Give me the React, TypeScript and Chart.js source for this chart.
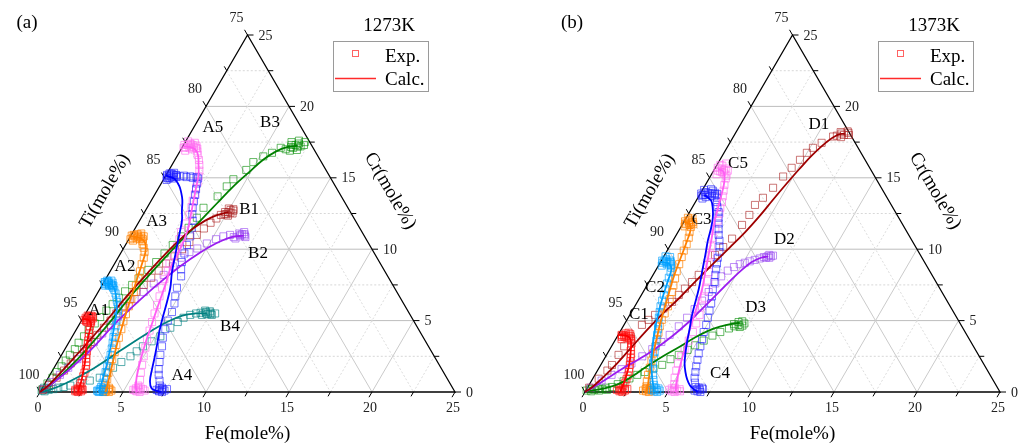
import React, { useEffect, useRef } from 'react';
import { Chart, registerables } from 'chart.js';
Chart.register(...registerables);

type Pt = [number, number]; // [Fe mole%, Cr mole%], Ti = 100 - Fe - Cr

// ---- axis ticks ----
const FE_TICKS = [0, 5, 10, 15, 20, 25];
const CR_TICKS = [0, 5, 10, 15, 20, 25];
const TI_TICKS = [75, 80, 85, 90, 95, 100];

// ---- panel (a) 1273K ----
const A1_EXP: Pt[] = [[0.15,5.2],[0.25,5.05],[0.35,5.25],[0.45,5.1],[0.55,5.0],[0.3,4.95],[0.2,5.35],[0.5,5.3],[0.65,4.85],[0.6,5.15],[0.4,4.9],[0.7,4.6],[0.25,5.15],[0.45,5.2],[0.35,5.0],[0.55,5.25],[0.15,5.05],[0.6,4.95],[0.4,5.35],[0.3,5.3],[0.8,4.35],[0.9,4.1],[1.0,3.85],[1.1,3.6],[1.2,3.35],[1.3,3.1],[1.4,2.85],[1.5,2.6],[1.6,2.35],[1.75,2.1],[1.85,1.85],[1.95,1.6],[2.0,1.35],[2.05,1.1],[2.1,0.85],[2.15,0.6],[2.2,0.4],[2.05,0.15],[2.15,0.25],[2.25,0.1],[2.35,0.2],[2.45,0.05],[2.3,0.0],[2.5,0.15],[2.2,0.05],[2.1,0.05],[2.3,0.15],[2.4,0.25],[2.2,0.2]];
const A1_CALC: Pt[] = [[0.0,5.1],[0.4,5.05],[0.7,4.75],[0.85,4.3],[1.0,3.8],[1.2,3.2],[1.45,2.6],[1.7,2.0],[1.9,1.4],[2.1,0.8],[2.2,0.35],[2.3,0.0]];
const A2_EXP: Pt[] = [[0.05,7.7],[0.15,7.55],[0.25,7.75],[0.35,7.6],[0.45,7.45],[0.55,7.65],[0.65,7.4],[0.2,7.45],[0.4,7.8],[0.75,7.3],[0.1,7.6],[0.3,7.65],[0.5,7.55],[0.2,7.7],[0.6,7.5],[0.4,7.5],[0.15,7.8],[0.7,7.45],[0.9,7.15],[1.1,6.9],[1.3,6.6],[1.5,6.3],[1.7,6.0],[1.85,5.7],[2.0,5.35],[2.1,5.0],[2.25,4.6],[2.4,4.2],[2.5,3.85],[2.65,3.45],[2.8,3.05],[2.95,2.6],[3.05,2.2],[3.15,1.8],[3.25,1.4],[3.35,1.0],[3.45,0.65],[3.5,0.35],[3.4,0.1],[3.5,0.2],[3.6,0.05],[3.7,0.15],[3.8,0.0],[3.55,0.0],[3.65,0.25],[3.45,0.05],[3.75,0.2]];
const A2_CALC: Pt[] = [[0.0,7.6],[0.5,7.55],[0.85,7.25],[1.2,6.75],[1.55,6.15],[1.85,5.5],[2.1,4.8],[2.35,4.1],[2.6,3.4],[2.85,2.6],[3.1,1.8],[3.3,1.0],[3.45,0.4],[3.55,0.0]];
const A3_EXP: Pt[] = [[0.05,10.95],[0.2,10.8],[0.35,11.05],[0.5,10.85],[0.65,10.7],[0.8,10.9],[0.3,10.6],[0.1,10.7],[0.55,11.1],[0.9,10.55],[1.0,10.35],[0.25,10.9],[0.45,10.75],[0.7,10.8],[0.15,11.0],[0.6,10.95],[0.4,10.95],[0.85,10.7],[1.2,10.1],[1.4,9.8],[1.55,9.4],[1.65,8.95],[1.8,8.45],[1.95,7.95],[2.05,7.45],[2.15,7.0],[2.25,6.5],[2.35,6.0],[2.45,5.45],[2.55,4.95],[2.7,4.4],[2.85,3.8],[2.95,3.3],[3.1,2.8],[3.2,2.3],[3.35,1.8],[3.45,1.35],[3.6,0.9],[3.7,0.5],[3.75,0.15],[3.85,0.25],[3.95,0.05],[4.05,0.15],[4.15,0.0],[4.25,0.1],[3.9,0.0],[4.0,0.3],[3.8,0.05],[4.1,0.2]];
const A3_CALC: Pt[] = [[0.0,10.9],[0.6,10.8],[1.1,10.45],[1.45,9.8],[1.65,9.0],[1.85,8.1],[2.05,7.2],[2.25,6.3],[2.45,5.4],[2.7,4.4],[2.95,3.4],[3.25,2.4],[3.55,1.4],[3.8,0.55],[3.95,0.0]];
const A4_EXP: Pt[] = [[0.05,15.2],[0.15,15.0],[0.25,15.3],[0.35,15.1],[0.5,14.95],[0.6,15.2],[0.2,14.85],[0.4,15.35],[0.1,15.1],[0.7,15.05],[0.2,15.15],[0.3,15.0],[0.45,15.2],[0.55,15.05],[0.15,15.3],[0.35,15.25],[0.65,15.15],[0.25,14.95],[0.9,15.1],[1.1,15.15],[1.3,15.05],[1.5,15.1],[1.7,15.0],[1.9,15.05],[2.05,14.95],[2.15,14.6],[2.3,14.2],[2.45,13.8],[2.6,13.35],[2.75,12.9],[2.95,12.45],[3.2,12.0],[3.4,11.5],[3.6,10.9],[3.7,10.3],[3.85,9.7],[4.0,9.1],[4.2,8.6],[4.45,8.1],[4.6,7.3],[4.8,6.7],[5.0,6.2],[5.15,5.6],[5.2,5.0],[5.35,4.4],[5.5,3.8],[5.75,3.2],[5.95,2.6],[6.15,2.1],[6.35,1.6],[6.55,1.2],[6.8,0.8],[7.0,0.45],[6.95,0.15],[7.05,0.25],[7.15,0.05],[7.25,0.15],[7.35,0.0],[7.45,0.1],[7.55,0.2],[7.2,0.3],[7.1,0.1],[7.3,0.2]];
const A4_CALC: Pt[] = [[0.0,15.15],[0.5,15.0],[0.75,14.85],[1.2,14.4],[1.5,14.0],[1.85,13.45],[2.2,12.7],[2.55,12.0],[2.95,10.8],[3.35,9.6],[3.75,8.4],[4.2,7.3],[4.5,6.3],[4.75,5.35],[5.05,4.3],[5.4,3.3],[5.7,2.4],[5.95,1.6],[6.25,0.75],[6.6,0.25],[7.0,0.08],[7.3,0.0]];
const A5_EXP: Pt[] = [[0.05,17.3],[0.2,17.15],[0.35,17.4],[0.5,17.2],[0.65,17.0],[0.8,17.25],[0.95,17.05],[0.3,16.9],[0.15,17.55],[0.6,17.45],[1.05,16.85],[0.25,17.3],[0.45,17.1],[0.7,17.15],[0.4,17.35],[0.55,17.3],[0.1,17.1],[0.85,17.1],[1.2,16.6],[1.45,16.25],[1.65,15.9],[1.85,15.5],[2.0,15.1],[2.15,14.7],[2.25,14.3],[2.4,13.85],[2.5,13.4],[2.65,12.95],[2.8,12.4],[2.9,11.8],[2.9,11.2],[3.05,10.7],[3.15,10.2],[3.25,9.6],[3.3,9.0],[3.45,8.5],[3.55,7.9],[3.7,7.3],[3.85,6.7],[4.0,6.1],[4.15,5.5],[4.3,4.9],[4.45,4.3],[4.6,3.7],[4.8,3.1],[5.0,2.5],[5.2,1.9],[5.4,1.35],[5.6,0.85],[5.7,0.45],[5.55,0.15],[5.65,0.25],[5.8,0.05],[5.9,0.15],[6.0,0.0],[6.1,0.2],[6.25,0.1],[5.75,0.3],[5.7,0.1],[5.95,0.25]];
const A5_CALC: Pt[] = [[0.0,17.2],[0.5,17.15],[0.9,16.95],[1.25,16.55],[1.6,15.9],[1.95,15.2],[2.25,14.3],[2.55,13.4],[2.85,12.5],[3.15,11.6],[3.35,10.7],[3.45,9.8],[3.5,8.8],[3.8,7.5],[4.1,6.0],[4.35,4.8],[4.6,3.6],[4.95,2.2],[5.3,1.05],[5.6,0.35],[5.85,0.0]];
const B1_EXP: Pt[] = [[0.1,0.15],[0.3,0.5],[0.5,1.0],[0.7,1.5],[0.85,2.0],[1.0,2.5],[1.15,3.0],[1.3,3.5],[1.45,4.0],[1.6,4.5],[1.75,5.0],[1.85,5.5],[2.0,6.0],[2.15,6.5],[2.3,7.0],[2.5,7.5],[2.7,8.0],[2.9,8.5],[3.1,9.0],[3.35,9.5],[3.55,10.0],[3.75,10.5],[3.95,11.0],[4.15,11.45],[4.35,11.85],[4.55,12.15],[4.7,12.4],[4.85,12.6],[5.0,12.45],[5.1,12.75],[5.2,12.55],[5.3,12.7],[4.95,12.85],[5.35,12.5],[5.15,12.35],[5.05,12.6],[4.9,12.45],[5.25,12.8]];
const B1_CALC: Pt[] = [[0,0],[0.3,0.5],[0.8,2.2],[1.4,4.5],[1.9,6.8],[2.4,8.6],[2.9,10.2],[3.4,11.3],[3.95,12.0],[4.5,12.4],[5.05,12.6]];
const B2_EXP: Pt[] = [[0.1,0.2],[0.35,0.7],[0.6,1.2],[0.85,1.7],[1.1,2.3],[1.3,2.9],[1.5,3.5],[1.7,4.1],[1.9,4.7],[2.05,5.3],[2.2,5.9],[2.45,6.5],[2.75,7.0],[3.05,7.6],[3.35,8.2],[3.6,8.8],[3.8,9.4],[4.1,9.8],[4.45,10.05],[4.85,10.4],[5.25,10.7],[5.6,10.9],[5.95,11.0],[6.25,10.85],[6.45,11.1],[6.6,10.9],[6.8,11.05],[6.95,10.85],[6.7,11.2],[6.4,10.75],[6.55,11.0],[6.85,10.95],[6.65,11.05]];
const B2_CALC: Pt[] = [[0,0],[0.3,0.4],[0.9,1.4],[1.6,3.0],[2.1,4.7],[2.65,6.1],[3.3,7.5],[4.05,8.8],[4.8,9.8],[5.45,10.45],[6.1,10.85],[6.8,10.95]];
const B3_EXP: Pt[] = [[0.05,0.2],[0.15,0.6],[0.25,1.0],[0.3,1.4],[0.4,1.8],[0.45,2.2],[0.5,2.6],[0.6,3.0],[0.6,3.45],[0.7,3.9],[0.75,4.35],[0.9,4.8],[1.0,5.25],[1.15,5.7],[1.3,6.15],[1.45,6.6],[1.6,7.05],[1.8,7.5],[2.0,8.0],[2.25,8.55],[2.45,9.1],[2.65,9.7],[2.85,10.3],[3.05,10.9],[3.2,11.5],[3.35,12.2],[3.4,12.9],[3.85,13.7],[4.05,14.4],[4.2,14.9],[4.65,15.55],[4.8,16.1],[5.2,16.5],[5.6,16.75],[5.95,17.1],[6.3,17.0],[6.5,17.3],[6.7,17.1],[6.9,17.4],[7.1,17.2],[6.6,16.9],[7.2,17.5],[6.8,17.6],[6.4,17.5],[7.0,16.95],[7.25,17.3],[6.75,17.3],[6.95,17.2],[6.55,17.15]];
const B3_CALC: Pt[] = [[0,0],[0.45,0.6],[1.1,2.25],[1.7,4.6],[2.15,6.9],[2.6,8.6],[3.1,10.3],[3.65,11.95],[4.05,13.2],[4.45,14.4],[4.9,15.4],[5.3,16.25],[5.8,16.85],[6.3,17.15],[6.9,17.25]];
const B4_EXP: Pt[] = [[0.05,0.1],[0.25,0.05],[0.45,0.15],[0.1,0.3],[0.3,0.25],[0.7,0.2],[0.95,0.3],[1.25,0.35],[1.6,0.45],[2.1,0.63],[2.6,0.8],[3.1,1.0],[3.35,1.35],[3.55,1.7],[3.85,2.1],[4.2,2.5],[4.4,2.85],[4.6,3.2],[4.95,3.55],[5.3,3.9],[5.6,4.5],[5.85,4.9],[6.05,5.2],[6.35,5.4],[6.65,5.5],[6.9,5.55],[7.05,5.4],[7.2,5.6],[7.35,5.45],[7.5,5.55],[7.65,5.4],[7.8,5.5],[7.1,5.7],[7.4,5.65],[7.25,5.5],[7.55,5.45]];
const B4_CALC: Pt[] = [[0,0],[0.5,0.15],[1.3,0.65],[2.4,1.65],[3.4,2.9],[4.4,4.1],[5.2,4.9],[5.9,5.35],[6.6,5.5],[7.3,5.5]];

// ---- panel (b) 1373K ----
const C1_EXP: Pt[] = [[0.2,4.0],[0.3,3.85],[0.4,4.1],[0.5,3.95],[0.6,3.8],[0.7,4.05],[0.8,3.9],[0.9,3.7],[0.35,3.7],[0.55,4.15],[1.0,3.6],[0.25,3.95],[0.45,3.85],[0.65,3.95],[0.75,3.8],[0.4,3.95],[1.1,3.4],[1.2,3.15],[1.3,2.9],[1.45,2.65],[1.55,2.4],[1.65,2.15],[1.75,1.9],[1.85,1.65],[1.95,1.4],[2.0,1.15],[2.05,0.9],[2.1,0.65],[2.1,0.4],[1.85,0.15],[1.95,0.25],[2.05,0.05],[2.15,0.15],[2.25,0.0],[2.35,0.1],[2.45,0.2],[2.0,0.3],[2.1,0.1],[2.3,0.2]];
const C1_CALC: Pt[] = [[0.0,4.0],[0.5,3.95],[0.85,3.75],[1.1,3.35],[1.35,2.8],[1.6,2.2],[1.8,1.6],[1.95,1.0],[2.05,0.5],[2.1,0.15],[2.15,0.0]];
const C2_EXP: Pt[] = [[0.05,9.2],[0.15,9.05],[0.25,9.3],[0.35,9.1],[0.45,8.95],[0.55,9.2],[0.65,9.0],[0.75,8.85],[0.2,8.85],[0.4,9.45],[0.85,8.7],[0.1,9.5],[0.3,9.2],[0.5,9.05],[0.2,9.15],[0.6,9.1],[0.95,8.4],[1.05,8.0],[1.15,7.6],[1.25,7.2],[1.35,6.8],[1.45,6.4],[1.55,6.0],[1.7,5.6],[1.85,5.2],[2.0,4.8],[2.2,4.4],[2.35,4.0],[2.5,3.6],[2.65,3.2],[2.8,2.8],[2.95,2.4],[3.1,2.0],[3.3,1.6],[3.5,1.2],[3.7,0.85],[3.9,0.5],[3.95,0.15],[4.05,0.25],[4.15,0.05],[4.25,0.15],[4.35,0.0],[4.45,0.1],[4.1,0.3],[4.3,0.25]];
const C2_CALC: Pt[] = [[0.0,9.1],[0.55,9.0],[0.9,8.6],[1.1,7.8],[1.3,6.9],[1.55,5.9],[1.85,4.9],[2.2,3.9],[2.6,2.9],[3.05,1.9],[3.55,1.0],[3.95,0.35],[4.15,0.0]];
const C3_EXP: Pt[] = [[0.05,11.95],[0.15,11.8],[0.25,12.05],[0.35,11.85],[0.45,11.7],[0.55,11.9],[0.65,11.75],[0.2,11.6],[0.4,12.15],[0.6,11.55],[0.1,12.2],[0.3,11.95],[0.5,11.8],[0.2,11.75],[0.7,11.2],[0.85,10.8],[0.95,10.35],[1.0,9.9],[1.1,9.45],[1.2,8.95],[1.3,8.45],[1.45,7.95],[1.6,7.45],[1.75,7.0],[1.85,6.5],[2.0,6.0],[2.05,5.5],[2.1,5.05],[2.2,4.6],[2.35,4.15],[2.5,3.7],[2.65,3.2],[2.75,2.7],[2.9,2.2],[3.05,1.7],[3.2,1.2],[3.35,0.75],[3.5,0.4],[3.45,0.1],[3.55,0.2],[3.65,0.05],[3.75,0.15],[3.85,0.0],[3.95,0.1],[3.6,0.3],[3.8,0.25]];
const C3_CALC: Pt[] = [[0.0,11.9],[0.45,11.75],[0.7,11.3],[0.85,10.6],[1.0,9.8],[1.15,8.9],[1.35,7.9],[1.6,6.9],[1.85,5.9],[2.1,4.9],[2.4,3.9],[2.7,2.9],[3.05,1.9],[3.35,1.0],[3.6,0.35],[3.7,0.0]];
const C4_EXP: Pt[] = [[0.05,13.9],[0.15,13.75],[0.25,14.0],[0.35,13.8],[0.45,13.65],[0.55,13.9],[0.65,14.1],[0.75,13.75],[0.85,13.95],[0.95,13.7],[1.05,13.85],[1.15,13.6],[0.3,13.55],[0.5,14.2],[0.1,14.15],[0.4,13.95],[0.7,13.9],[0.9,13.85],[0.2,13.8],[1.3,13.3],[1.5,12.95],[1.75,12.6],[1.95,12.2],[2.15,11.8],[2.35,11.4],[2.55,11.0],[2.8,10.6],[3.0,10.2],[3.2,9.8],[3.3,9.4],[3.45,9.0],[3.6,8.6],[3.75,8.2],[3.95,7.7],[4.1,7.2],[4.3,6.7],[4.5,6.2],[4.65,5.7],[4.8,5.2],[4.95,4.7],[5.05,4.2],[5.2,3.7],[5.35,3.2],[5.5,2.7],[5.65,2.25],[5.8,1.8],[5.95,1.4],[6.1,1.0],[6.3,0.65],[6.5,0.35],[6.55,0.1],[6.65,0.2],[6.75,0.05],[6.85,0.15],[6.95,0.0],[7.0,0.2],[6.7,0.3],[6.9,0.3]];
const C4_CALC: Pt[] = [[0.3,13.8],[0.9,13.4],[1.3,12.8],[1.6,12.2],[1.85,11.5],[2.1,10.6],[2.45,9.6],[2.85,8.4],[3.25,7.2],[3.75,5.4],[4.1,4.4],[4.4,3.5],[4.7,2.7],[5.0,2.0],[5.35,1.4],[5.7,0.9],[6.1,0.45],[6.45,0.2],[6.8,0.0]];
const C5_EXP: Pt[] = [[0.15,15.7],[0.25,15.5],[0.35,15.85],[0.45,15.6],[0.55,15.4],[0.65,15.65],[0.75,15.3],[0.85,15.5],[0.95,15.15],[0.3,15.25],[0.5,16.0],[1.0,14.95],[0.4,15.45],[0.6,15.55],[0.2,15.9],[1.15,14.5],[1.3,14.1],[1.45,13.7],[1.6,13.3],[1.7,12.9],[1.85,12.5],[2.0,12.0],[2.15,11.4],[2.3,10.8],[2.5,10.2],[2.75,9.6],[3.0,9.0],[3.25,8.4],[3.5,7.8],[3.7,7.2],[3.9,6.6],[4.05,6.0],[4.2,5.4],[4.3,4.8],[4.4,4.2],[4.45,3.6],[4.5,3.0],[4.55,2.5],[4.6,2.0],[4.75,1.5],[4.9,1.0],[5.1,0.55],[5.0,0.15],[5.1,0.25],[5.2,0.05],[5.3,0.15],[5.4,0.0],[5.5,0.1],[5.6,0.2],[5.7,0.05],[5.25,0.3]];
const C5_CALC: Pt[] = [[0.2,15.6],[0.6,15.45],[1.0,14.8],[1.35,13.7],[1.65,12.6],[1.85,11.9],[2.2,10.9],[2.65,9.6],[3.05,8.4],[3.45,7.2],[3.75,6.0],[4.0,4.9],[4.25,3.9],[4.5,3.0],[4.85,1.7],[5.2,0.6],[5.45,0.0]];
const D1_EXP: Pt[] = [[0.1,0.3],[0.36,0.93],[0.6,1.5],[0.68,1.89],[0.72,2.6],[0.76,3.2],[0.9,3.74],[1.08,4.7],[1.3,5.05],[1.52,5.4],[1.8,5.85],[2.09,6.31],[2.25,6.8],[2.4,7.24],[2.6,7.7],[2.75,8.2],[2.9,8.9],[3.03,9.6],[3.25,10.15],[3.49,10.74],[3.61,11.7],[3.7,12.4],[3.69,13.1],[3.92,13.6],[4.18,14.3],[4.39,15.09],[4.6,15.7],[4.82,16.26],[4.99,16.75],[5.18,17.1],[5.53,17.45],[6.0,17.89],[6.2,17.95],[6.4,18.1],[6.6,18.0],[6.8,18.15],[6.5,17.85],[6.3,18.2],[6.9,18.0],[6.7,18.25]];
const D1_CALC: Pt[] = [[0,0],[0.3,0.4],[0.8,1.6],[1.2,3.0],[1.55,4.3],[1.95,5.5],[2.4,6.6],[2.8,7.8],[3.2,8.9],[3.65,10.1],[4.05,11.2],[4.35,12.3],[4.6,13.5],[4.85,14.6],[5.1,15.6],[5.4,16.6],[5.8,17.5],[6.2,18.0],[6.6,18.1]];
const D2_EXP: Pt[] = [[0.2,0.3],[0.6,0.8],[1.0,1.2],[1.4,1.6],[1.8,2.0],[2.2,2.5],[2.55,3.0],[2.85,3.5],[3.1,4.0],[3.35,4.6],[3.55,5.2],[3.7,5.8],[3.85,6.4],[3.95,7.0],[4.05,7.6],[4.15,8.1],[4.35,8.5],[4.6,8.75],[4.85,8.95],[5.1,9.05],[5.35,9.15],[5.6,9.25],[5.85,9.35],[6.05,9.45],[6.25,9.5],[6.4,9.4],[6.55,9.55],[6.3,9.6],[6.45,9.5],[6.2,9.4]];
const D2_CALC: Pt[] = [[0,0],[0.4,0.4],[1.4,1.6],[2.1,2.3],[2.7,3.0],[3.3,3.9],[3.8,4.9],[4.1,5.7],[4.4,6.5],[4.9,7.9],[5.2,8.6],[5.5,9.1],[5.9,9.4],[6.3,9.5]];
const D3_EXP: Pt[] = [[0.05,0.1],[0.2,0.2],[0.35,0.05],[0.5,0.15],[0.65,0.25],[0.8,0.1],[0.95,0.2],[1.1,0.3],[1.25,0.15],[1.45,0.35],[1.7,0.55],[1.95,0.75],[2.2,0.95],[2.55,1.2],[2.9,1.4],[3.3,1.65],[3.7,1.9],[4.0,2.3],[4.35,2.6],[4.7,2.95],[5.0,3.27],[5.35,3.6],[5.7,3.95],[6.05,4.2],[6.45,4.45],[6.7,4.6],[6.9,4.7],[7.05,4.55],[7.2,4.8],[6.8,4.9],[7.0,4.95],[6.6,4.75],[7.15,4.65]];
const D3_CALC: Pt[] = [[0,0.05],[0.6,0.15],[1.2,0.3],[1.8,0.6],[2.3,1.1],[2.8,1.75],[3.4,2.45],[4.1,3.15],[4.7,3.8],[5.3,4.3],[5.9,4.6],[6.4,4.75],[6.9,4.85]];

// ---- styling ----
const FONT = '"Liberation Serif", "Times New Roman", serif';
const COL: Record<string, [string, string]> = {
  red: ['#ff0000', 'rgba(255,20,20,0.65)'],
  cyan: ['#00a0ff', 'rgba(0,160,255,0.65)'],
  orange: ['#ff8000', 'rgba(255,130,0,0.7)'],
  blue: ['#0000ff', 'rgba(30,30,255,0.6)'],
  pink: ['#ff5cf4', 'rgba(255,110,240,0.65)'],
  darkred: ['#9e0000', 'rgba(170,30,30,0.6)'],
  purple: ['#9a1cf0', 'rgba(150,70,240,0.6)'],
  green: ['#008000', 'rgba(0,140,0,0.6)'],
  teal: ['#008080', 'rgba(0,130,130,0.65)'],
};

type Series = { name: string; exp: Pt[]; calc: Pt[]; color: string; at: Pt };

const PANEL_A: Series[] = [
  { name: 'A1', exp: A1_EXP, calc: A1_CALC, color: 'red', at: [0.71, 5.68] },
  { name: 'A2', exp: A2_EXP, calc: A2_CALC, color: 'cyan', at: [0.74, 8.76] },
  { name: 'A3', exp: A3_EXP, calc: A3_CALC, color: 'orange', at: [1.07, 11.91] },
  { name: 'A4', exp: A4_EXP, calc: A4_CALC, color: 'blue', at: [7.97, 1.16] },
  { name: 'A5', exp: A5_EXP, calc: A5_CALC, color: 'pink', at: [1.17, 18.5] },
  { name: 'B1', exp: B1_EXP, calc: B1_CALC, color: 'darkred', at: [6.22, 12.75] },
  { name: 'B2', exp: B2_EXP, calc: B2_CALC, color: 'purple', at: [8.3, 9.67] },
  { name: 'B3', exp: B3_EXP, calc: B3_CALC, color: 'green', at: [4.43, 18.85] },
  { name: 'B4', exp: B4_EXP, calc: B4_CALC, color: 'teal', at: [9.17, 4.55] },
];
const PANEL_B: Series[] = [
  { name: 'C1', exp: C1_EXP, calc: C1_CALC, color: 'red', at: [0.55, 5.4] },
  { name: 'C2', exp: C2_EXP, calc: C2_CALC, color: 'cyan', at: [0.57, 7.29] },
  { name: 'C3', exp: C3_EXP, calc: C3_CALC, color: 'orange', at: [1.0, 12.05] },
  { name: 'C4', exp: C4_EXP, calc: C4_CALC, color: 'blue', at: [7.48, 1.3] },
  { name: 'C5', exp: C5_EXP, calc: C5_CALC, color: 'pink', at: [1.21, 16.01] },
  { name: 'D1', exp: D1_EXP, calc: D1_CALC, color: 'darkred', at: [4.74, 18.71] },
  { name: 'D2', exp: D2_EXP, calc: D2_CALC, color: 'purple', at: [6.69, 10.65] },
  { name: 'D3', exp: D3_EXP, calc: D3_CALC, color: 'green', at: [7.33, 5.89] },
];

const toXY = (p: Pt) => ({ x: p[0] + p[1] / 2, y: p[1] });

function ternaryPlugin(panel: string, temp: string, series: Series[]) {
  return {
    id: 'ternary',
    beforeDatasetsDraw(chart: any) {
      const ctx = chart.ctx;
      const xs = chart.scales.x, ys = chart.scales.y;
      const P = (fe: number, cr: number) => [xs.getPixelForValue(fe + cr / 2), ys.getPixelForValue(cr)];
      const seg = (a: number[], b: number[]) => { ctx.beginPath(); ctx.moveTo(a[0], a[1]); ctx.lineTo(b[0], b[1]); ctx.stroke(); };
      ctx.save();
      ctx.lineWidth = 1;
      for (let i = 1; i < 10; i++) {
        const v = i * 2.5;
        const major = i % 2 === 0;
        ctx.setLineDash(major ? [] : [2, 2]);
        ctx.strokeStyle = major ? '#bdbdbd' : '#d8d8d8';
        seg(P(0, v), P(25 - v, v));
        ctx.strokeStyle = major ? '#cacaca' : '#dcdcdc';
        seg(P(v, 0), P(v, 25 - v));
        seg(P(0, v), P(v, 0));
      }
      ctx.setLineDash([]);
      ctx.strokeStyle = '#000';
      ctx.lineWidth = 1.3;
      const a = P(0, 0), b = P(25, 0), c = P(0, 25);
      ctx.beginPath(); ctx.moveTo(a[0], a[1]); ctx.lineTo(b[0], b[1]); ctx.lineTo(c[0], c[1]); ctx.closePath(); ctx.stroke();
      // ticks
      ctx.lineWidth = 1;
      for (let i = 0; i <= 10; i++) {
        const v = i * 2.5;
        const L = i % 2 === 0 ? 6 : 5;
        const pb = P(v, 0);
        seg(pb, [pb[0] - 0.5 * L, pb[1] + 0.866 * L]);
        const pr = P(25 - v, v);
        seg(pr, [pr[0] + L, pr[1]]);
        const pl = P(0, v);
        seg(pl, [pl[0] - 0.5 * L, pl[1] - 0.866 * L]);
      }
      ctx.restore();
    },
    afterDatasetsDraw(chart: any) {
      const ctx = chart.ctx;
      const xs = chart.scales.x, ys = chart.scales.y;
      const P = (fe: number, cr: number) => [xs.getPixelForValue(fe + cr / 2), ys.getPixelForValue(cr)];
      ctx.save();
      ctx.textBaseline = 'middle';
      ctx.font = `14px ${FONT}`;
      ctx.fillStyle = '#222';
      ctx.textAlign = 'center';
      FE_TICKS.forEach((v) => { const p = P(v, 0); ctx.fillText(String(v), p[0] - 2, p[1] + 16); });
      ctx.textAlign = 'left';
      CR_TICKS.forEach((v) => { const p = P(25 - v, v); ctx.fillText(String(v), p[0] + 11, p[1] + 1); });
      ctx.textAlign = 'center';
      TI_TICKS.forEach((t) => { const p = P(0, 100 - t); ctx.fillText(String(t), p[0] - 11, p[1] - 17); });

      ctx.fillStyle = '#000';
      ctx.font = `19px ${FONT}`;
      ctx.fillText('Fe(mole%)', P(12.5, 0)[0], 434);
      ctx.save(); ctx.translate(105, 191); ctx.rotate(-Math.PI / 3); ctx.fillText('Ti(mole%)', 0, 0); ctx.restore();
      ctx.save(); ctx.translate(390, 191); ctx.rotate(Math.PI / 3); ctx.fillText('Cr(mole%)', 0, 0); ctx.restore();
      ctx.fillText(panel, 27, 23);
      ctx.fillText(temp, 389, 26);

      // curve labels
      ctx.font = `17px ${FONT}`;
      series.forEach((s) => { const p = P(s.at[0], s.at[1]); ctx.fillText(s.name, p[0], p[1]); });

      // legend
      ctx.strokeStyle = '#9a9a9a';
      ctx.lineWidth = 1;
      ctx.strokeRect(333.5, 41.5, 95, 50);
      ctx.strokeStyle = 'rgba(255,70,70,0.85)';
      ctx.strokeRect(352.5, 50.5, 6, 6);
      ctx.strokeStyle = '#ff2a2a';
      ctx.lineWidth = 1.5;
      ctx.beginPath(); ctx.moveTo(335, 78.5); ctx.lineTo(376, 78.5); ctx.stroke();
      ctx.font = `19px ${FONT}`;
      ctx.textAlign = 'left';
      ctx.fillText('Exp.', 385, 57);
      ctx.fillText('Calc.', 385, 80);
      ctx.restore();
    },
  };
}

function Panel({ panel, temp, series, left }: { panel: string; temp: string; series: Series[]; left: number }) {
  const ref = useRef<HTMLCanvasElement>(null);
  useEffect(() => {
    if (!ref.current) return;
    const datasets: any[] = [];
    series.forEach((s) => {
      const [line, exp] = COL[s.color];
      datasets.push({
        label: s.name + ' calc', data: s.calc.map(toXY), showLine: true, borderColor: line, borderWidth: 1.8,
        pointRadius: 0, tension: 0.4, fill: false, order: 1, clip: false,
      });
      datasets.push({
        label: s.name + ' exp', data: s.exp.map(toXY), showLine: false, pointStyle: 'rect', pointRadius: 5,
        borderColor: exp, backgroundColor: 'rgba(0,0,0,0)', pointBorderWidth: 1, order: 2, clip: false,
      });
    });
    const chart = new Chart(ref.current, {
      type: 'scatter',
      data: { datasets },
      options: {
        responsive: false,
        animation: false,
        events: [],
        layout: { padding: { left: 40, right: 24, top: 35, bottom: 53 } },
        scales: {
          x: { type: 'linear', min: 0, max: 25, display: false },
          y: { type: 'linear', min: 0, max: 25, display: false },
        },
        plugins: { legend: { display: false }, tooltip: { enabled: false }, title: { display: false } },
      },
      plugins: [ternaryPlugin(panel, temp, series)],
    } as any);
    return () => chart.destroy();
  }, []);
  return (
    <div style={{ position: 'absolute', left, top: 0, width: 479, height: 445 }}>
      <canvas ref={ref} width={479} height={445} style={{ display: 'block' }} />
    </div>
  );
}

export default function App() {
  return (
    <div style={{ position: 'absolute', left: 0, top: 0, width: 1024, height: 445, background: '#fff', overflow: 'hidden' }}>
      <Panel panel="(a)" temp="1273K" series={PANEL_A} left={0} />
      <Panel panel="(b)" temp="1373K" series={PANEL_B} left={545} />
    </div>
  );
}
